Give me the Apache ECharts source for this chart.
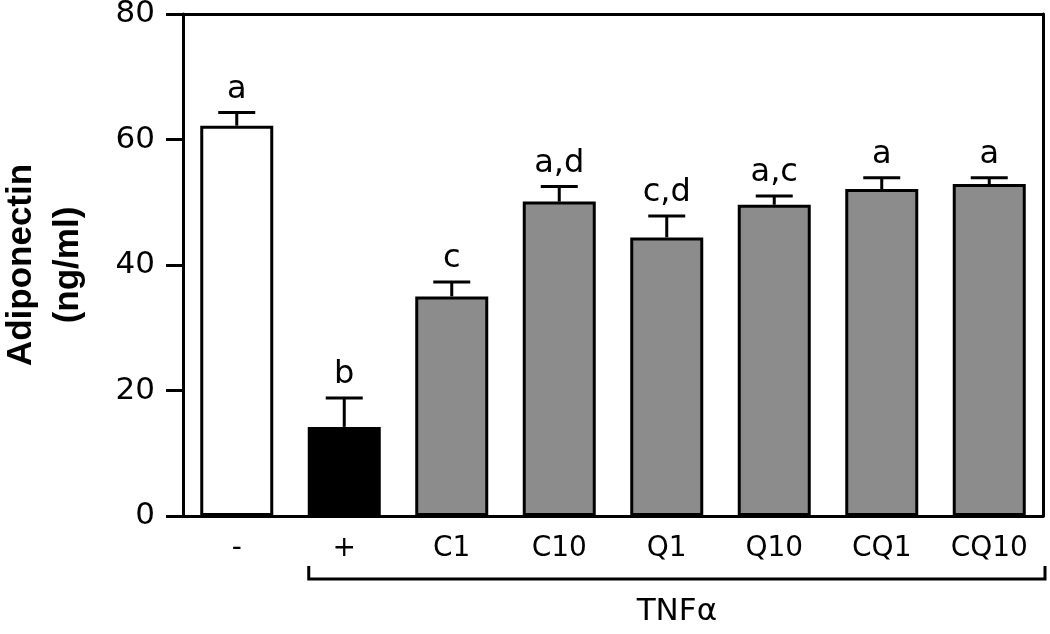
<!DOCTYPE html>
<html>
<head>
<meta charset="utf-8">
<script src="https://cdn.jsdelivr.net/npm/echarts@6/dist/echarts.min.js"></script>
<style>
html,body{margin:0;padding:0;background:#fff;}
#chart{width:1050px;height:634px;}
</style>
</head>
<body>
<div id="chart"></div>
<script>
const categories = ['-', '+', 'C1', 'C10', 'Q1', 'Q10', 'CQ1', 'CQ10'];
const means = [62.2, 14.2, 35.0, 50.1, 44.4, 49.6, 52.1, 52.9];
const errors = [2.1, 4.6, 2.3, 2.4, 3.4, 1.4, 1.8, 1.0];
const letters = ['a', 'b', 'c', 'a,d', 'c,d', 'a,c', 'a', 'a'];
const barColors = ['#ffffff', '#000000', '#8c8c8c', '#8c8c8c', '#8c8c8c', '#8c8c8c', '#8c8c8c', '#8c8c8c'];
const yMin = 0, yMax = 80, yInterval = 20;
const yTitle = 'Adiponectin\n(ng/ml)';
const groupLabel = 'TNFα';

const FONT = "'DejaVu Sans', sans-serif";
const chart = echarts.init(document.getElementById('chart'), null, {renderer: 'canvas'});
const LW = 3;

const option = {
  animation: false,
  backgroundColor: '#fff',
  grid: {left: 183, right: 7, top: 14, bottom: 118, containLabel: false, outerBoundsMode: 'none'},
  xAxis: [{
    type: 'category', data: categories, position: 'bottom',
    axisLine: {show: true, lineStyle: {color: '#000', width: LW}},
    axisTick: {show: false},
    axisLabel: {margin: 19, fontSize: 28, fontFamily: FONT, color: '#000'}
  }, {
    type: 'category', data: categories, position: 'top',
    axisLine: {show: true, onZero: false, lineStyle: {color: '#000', width: LW}},
    axisTick: {show: false}, axisLabel: {show: false}
  }],
  yAxis: [{
    type: 'value', min: yMin, max: yMax, interval: yInterval,
    name: yTitle, nameLocation: 'middle', nameGap: 91, nameRotate: 90,
    nameTextStyle: {fontSize: 35, fontWeight: 'bold', fontFamily: "'Liberation Sans', Arial, sans-serif", color: '#000', lineHeight: 47},
    axisLine: {show: true, lineStyle: {color: '#000', width: LW}},
    axisTick: {show: true, length: 17, inside: false, lineStyle: {color: '#000', width: LW}},
    axisLabel: {margin: 28, fontSize: 31, fontFamily: FONT, color: '#000'},
    splitLine: {show: false}
  }, {
    type: 'value', min: yMin, max: yMax, interval: yInterval, position: 'right',
    axisLine: {show: true, onZero: false, lineStyle: {color: '#000', width: LW}},
    axisTick: {show: false}, axisLabel: {show: false}, splitLine: {show: false}
  }],
  series: [{
    type: 'bar',
    barWidth: 73,
    data: means.map((v, i) => ({value: v, itemStyle: {color: barColors[i], borderColor: '#000', borderWidth: LW}})),
    z: 2
  }, {
    type: 'custom',
    z: 3,
    data: means.map((v, i) => [i, v, errors[i]]),
    renderItem: function (params, api) {
      const i = api.value(0), m = api.value(1), e = api.value(2);
      const base = api.coord([i, m]);
      const top = api.coord([i, m + e]);
      const hw = 18.5;
      return {
        type: 'group',
        children: [
          {type: 'line', shape: {x1: base[0], y1: base[1], x2: top[0], y2: top[1]}, style: {stroke: '#000', lineWidth: LW}},
          {type: 'line', shape: {x1: top[0] - hw, y1: top[1], x2: top[0] + hw, y2: top[1]}, style: {stroke: '#000', lineWidth: LW}},
          {type: 'text', x: top[0], y: top[1] - 23, style: {text: letters[params.dataIndex], textAlign: 'center', textVerticalAlign: 'middle', font: "32px 'DejaVu Sans', sans-serif", fill: '#000'}}
        ]
      };
    }
  }]
};
chart.setOption(option);

// Bracket under the TNFα-treated groups
const cx = chart.convertToPixel({xAxisIndex: 0}, categories[1]);
const y0 = chart.convertToPixel({yAxisIndex: 0}, 0);
const left = cx - 73 / 2 + 1;
const right = 1050 - 5;
const yTop = y0 + 50, yBot = y0 + 63;
chart.setOption({
  graphic: [{
    type: 'polyline',
    shape: {points: [[left, yTop], [left, yBot], [right, yBot], [right, yTop]]},
    style: {stroke: '#000', lineWidth: LW, fill: null}
  }, {
    type: 'text',
    x: (left + right) / 2, y: y0 + 96,
    style: {text: groupLabel, textAlign: 'center', textVerticalAlign: 'middle', font: "31px 'DejaVu Sans', sans-serif", fill: '#000'}
  }]
});
</script>
</body>
</html>
